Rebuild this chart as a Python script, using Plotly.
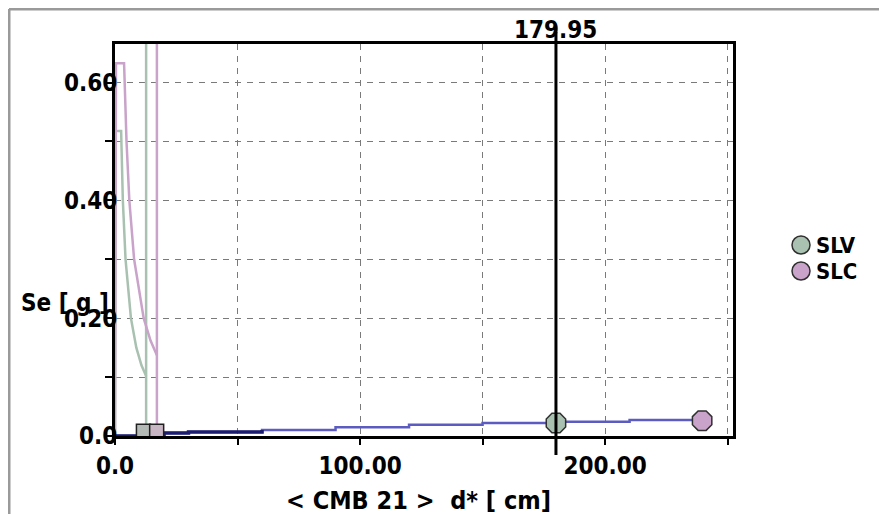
import plotly.graph_objects as go

# ---- data ----
slv_d = [0, 0.3, 2.5, 3.2, 4.3, 6.5, 8.7, 10.8, 12.7]
slv_se = [0, 0.518, 0.518, 0.40, 0.30, 0.20, 0.15, 0.12, 0.102]
slv_dstar = 12.7

slc_d = [0, 0.4, 3.7, 4.7, 5.85, 7.8, 11.7, 14.5, 17.1]
slc_se = [0, 0.633, 0.633, 0.50, 0.40, 0.30, 0.20, 0.162, 0.137]
slc_dstar = 17.1

cap_d = [0, 20, 30, 60, 90, 120, 150, 180, 210, 240]
cap_se = [0, 0.005, 0.007, 0.010, 0.015, 0.019, 0.022, 0.024, 0.027, 0.027]

square_d = [11.6, 17.0]
square_se = [0.008, 0.008]

point_names = ["SLV", "SLC"]
point_d = [179.95, 239.6]
point_se = [0.022, 0.026]

cursor_d = 179.95

x_tickvals = [0, 50, 100, 150, 200, 250]
x_ticktext = ["0.0", "", "100.00", "", "200.00", ""]
y_tickvals = [0, 0.1, 0.2, 0.3, 0.4, 0.5, 0.6]
y_ticktext = ["0.0", "", "0.20", "", "0.40", "", "0.60"]

GREEN = "#a9c1b0"
PURPLE = "#c9a3c9"
FONT = "DejaVu Sans Condensed, DejaVu Sans, Arial"
TF = dict(family=FONT, size=24, color="black", weight="bold")

# plot area in page pixels: x 115..733, y 44..436 (page has an 8px body margin)
L, T, PW, PH = 115, 44, 618, 392


def px(x):
    return (x - L) / PW


def py(y):
    return (T + PH - y) / PH


fig = go.Figure()

# demand spectra
fig.add_trace(go.Scatter(x=slv_d + [None, slv_dstar, slv_dstar], y=slv_se + [None, 0, 0.7],
                         mode="lines", line=dict(color=GREEN, width=2.5), showlegend=False))
fig.add_trace(go.Scatter(x=slc_d + [None, slc_dstar, slc_dstar], y=slc_se + [None, 0, 0.7],
                         mode="lines", line=dict(color=PURPLE, width=2.5), showlegend=False))

# capacity curve
fig.add_trace(go.Scatter(x=cap_d, y=cap_se, mode="lines", line=dict(color="#5c5cc0", width=2.5, shape="hv"),
                         showlegend=False))
fig.add_trace(go.Scatter(x=cap_d[:4], y=cap_se[:4], mode="lines", line=dict(color="#1c1c70", width=3.5, shape="hv"),
                         showlegend=False))

# squares at the bottom
fig.add_trace(go.Scatter(x=square_d, y=square_se, mode="markers",
                         marker=dict(symbol="square", size=14, color=["#b4bab6", "#c9b6c4"],
                                     line=dict(color="#202020", width=1.5)),
                         showlegend=False, cliponaxis=False))

# performance points
fig.add_trace(go.Scatter(x=point_d, y=point_se, mode="markers",
                         marker=dict(symbol="octagon", size=21, color=[GREEN, PURPLE],
                                     line=dict(color="#303030", width=1.5)),
                         showlegend=False, cliponaxis=False))

grid = dict(showgrid=True, gridcolor="#7a7a7a", gridwidth=1, griddash="6px,6px")
fig.update_xaxes(range=[0, 252.2], tickvals=x_tickvals, ticktext=x_ticktext, ticks="outside", ticklen=6,
                 tickwidth=2, tickcolor="black", showline=True, linewidth=3, linecolor="black", mirror=True,
                 zeroline=False, tickfont=TF, **grid)
fig.update_yaxes(range=[0, 0.6655], tickvals=y_tickvals, ticktext=y_ticktext, ticks="outside", ticklen=7,
                 tickwidth=2, tickcolor="black", showline=True, linewidth=3, linecolor="black", mirror=True,
                 zeroline=False, ticklabelstandoff=-17, tickfont=TF, **grid)

# cursor line
fig.add_shape(type="line", xref="x", yref="paper", x0=cursor_d, x1=cursor_d, y0=py(455), y1=py(32),
              line=dict(color="black", width=3))
fig.add_annotation(x=cursor_d, xref="x", y=py(30), yref="paper", text="179.95", showarrow=False,
                   xanchor="center", yanchor="middle", font=TF)

# axis titles
fig.add_annotation(x=px(19), xref="paper", y=py(303), yref="paper", text="Se [ g ]", showarrow=False,
                   xanchor="left", yanchor="middle", font=TF)
fig.add_annotation(x=px(418), xref="paper", y=py(500), yref="paper",
                   text="&lt; CMB 21 &gt;  d* [ cm]", showarrow=False,
                   xanchor="center", yanchor="middle", font=dict(family=FONT, size=25, color="black", weight="bold"))

# custom legend
leg_y = [245, 271]
for name, col, ly in zip(point_names, [GREEN, PURPLE], leg_y):
    cx, cy = px(801), py(ly)
    fig.add_shape(type="circle", xref="paper", yref="paper",
                  x0=cx - 9 / PW, x1=cx + 9 / PW, y0=cy - 9 / PH, y1=cy + 9 / PH,
                  fillcolor=col, line=dict(color="#303030", width=1.5))
    fig.add_annotation(x=px(814), xref="paper", y=cy, yref="paper", text=name, showarrow=False,
                       xanchor="left", yanchor="middle", font=dict(family=FONT, size=22, color="black", weight="bold"))

# outer frame (top and left edges)
fig.add_shape(type="line", xref="paper", yref="paper", x0=px(9), x1=px(900), y0=py(9), y1=py(9),
              line=dict(color="#9a9a9a", width=3))
fig.add_shape(type="line", xref="paper", yref="paper", x0=px(9), x1=px(9), y0=py(9), y1=py(530),
              line=dict(color="#9a9a9a", width=3))

# margins compensate the 8px page offset so the plot area lands at page 115..733 / 44..436
fig.update_layout(width=887, height=514, autosize=False,
                  margin=dict(l=L - 8, r=887 - (L - 8) - PW, t=T - 8, b=514 - (T - 8) - PH),
                  plot_bgcolor="white", paper_bgcolor="white", showlegend=False)

fig.write_html("out.html")
